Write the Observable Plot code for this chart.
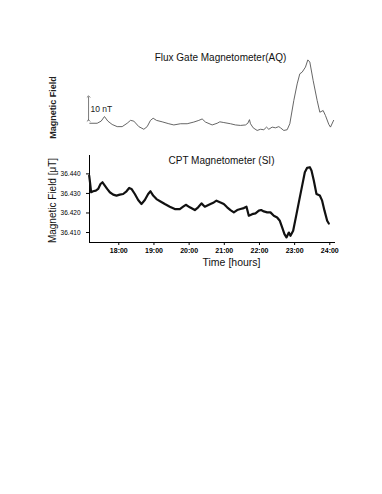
<!DOCTYPE html>
<html><head><meta charset="utf-8">
<script src="https://cdn.jsdelivr.net/npm/d3@7"></script>
<script src="https://cdn.jsdelivr.net/npm/@observablehq/plot@0.6"></script>
<style>
html,body{margin:0;padding:0;background:#fff;}
#chart{position:relative;width:382px;height:494px;font-family:"Liberation Sans",Arial,sans-serif;}
#chart svg{position:absolute;left:0;}
</style></head><body><div id="chart"></div>
<script>
// ---- data ----
const hourTicks = [18, 19, 20, 21, 22, 23, 24];
const fieldTicks = [36.41, 36.42, 36.43, 36.44];
const fluxTitle = "Flux Gate Magnetometer(AQ)";
const fluxYLabel = "Magnetic Field";
const cptTitle = "CPT Magnetometer (SI)";
const cptYLabel = "Magnetic Field [\u03BCT]";
const xLabel = "Time [hours]";
const scaleBarLabel = "10 nT";
const scaleBarTime = 17.14;
const scaleBarFrom = 1.25;
const scaleBarTo = 11.25;

// Flux gate (relative, nT)
const fluxTime = [17.176,17.385,17.499,17.593,17.688,17.811,17.954,18.096,18.238,18.333,18.427,18.570,18.712,18.807,18.901,18.977,19.072,19.233,19.423,19.565,19.754,19.944,20.133,20.276,20.370,20.465,20.655,20.797,20.873,20.986,21.176,21.318,21.460,21.602,21.669,21.716,21.745,21.821,21.934,22.029,22.124,22.200,22.266,22.361,22.455,22.550,22.598,22.692,22.787,22.863,22.977,23.072,23.147,23.214,23.308,23.375,23.432,23.527,23.640,23.716,23.811,23.877,23.972,24.019,24.108];
const fluxNT = [0.1,0.1,1.0,2.9,1.0,-0.4,-1.3,-1.3,0.1,1.3,1.0,-1.3,-2.4,-1.3,1.3,2.2,1.3,0.7,-0.1,-0.6,-0.1,-0.1,0.6,1.3,1.9,0.6,-0.6,0.1,0.7,0.4,-0.1,-0.6,-0.8,-0.6,0.1,1.6,-0.1,-1.8,-2.9,-2.4,-2.6,-1.5,-2.4,-1.5,-1.8,-1.3,-1.8,-2.9,-2.6,-0.1,9.6,16.5,20.7,21.4,23.5,26.5,25.6,17.9,9.6,4.7,5.4,3.3,-0.4,-1.5,1.3];

// CPT (µT)
const cptTime = [17.158,17.176,17.214,17.271,17.347,17.413,17.480,17.537,17.603,17.669,17.745,17.840,17.935,18.029,18.124,18.219,18.295,18.361,18.456,18.551,18.645,18.740,18.835,18.901,18.977,19.072,19.186,19.309,19.451,19.593,19.735,19.830,19.906,20.020,20.162,20.257,20.351,20.446,20.607,20.702,20.778,20.892,20.986,21.081,21.176,21.271,21.366,21.460,21.555,21.631,21.697,21.792,21.887,21.982,22.048,22.124,22.219,22.313,22.408,22.503,22.579,22.645,22.711,22.768,22.835,22.882,22.958,23.053,23.147,23.214,23.290,23.356,23.432,23.479,23.545,23.621,23.716,23.782,23.849,23.925,23.972];
const cptField = [36.4391,36.4366,36.4306,36.4311,36.4314,36.4323,36.4348,36.4357,36.4340,36.4323,36.4306,36.4294,36.4289,36.4294,36.4297,36.4311,36.4328,36.4323,36.4297,36.4266,36.4246,36.4266,36.4297,36.4311,36.4289,36.4271,36.4259,36.4246,36.4232,36.4220,36.4220,36.4232,36.4242,36.4229,36.4215,36.4229,36.4249,36.4232,36.4246,36.4254,36.4263,36.4254,36.4246,36.4229,36.4215,36.4203,36.4215,36.4220,36.4225,36.4232,36.4186,36.4194,36.4198,36.4212,36.4215,36.4208,36.4203,36.4203,36.4186,36.4177,36.4160,36.4126,36.4092,36.4075,36.4100,36.4083,36.4109,36.4194,36.4280,36.4340,36.4408,36.4431,36.4434,36.4417,36.4366,36.4297,36.4289,36.4263,36.4212,36.4160,36.4146];

// ---- build ----
const flux = fluxTime.map((t, i) => ({t, v: fluxNT[i]}));
const cpt = cptTime.map((t, i) => ({t, v: cptField[i]}));
const scaleBar = [{t: scaleBarTime, from: scaleBarFrom, to: scaleBarTo, label: scaleBarLabel}];

const font = '"Liberation Sans", Arial, sans-serif';
const xDomain = [17.167, 24.162];
const yDomainCpt = [36.4049, 36.4494];

const topPlot = Plot.plot({
  width: 382, height: 145,
  marginLeft: 89, marginRight: 47, marginTop: 40, marginBottom: 5,
  x: {domain: xDomain, axis: null},
  y: {domain: [-7.08, 34.58], axis: null},
  style: {fontFamily: font, background: "transparent", overflow: "visible", color: "#000"},
  marks: [
    Plot.line(flux, {x: "t", y: "v", stroke: "#555", strokeWidth: 0.9}),
    Plot.link(scaleBar, {x1: "t", x2: "t", y1: "from", y2: "to", stroke: "#444", strokeWidth: 0.7, markerStart: "arrow", markerEnd: "arrow"}),
    Plot.text(scaleBar, {x: "t", y: d => (d.from + d.to) / 2, text: "label", textAnchor: "start", dx: 2, dy: 1, fontSize: 8.5, fill: "#222"}),
    Plot.text([fluxTitle], {text: d => d, frameAnchor: "top", textAnchor: "middle", dx: 8, dy: 13, fontSize: 10, fill: "#111"}),
    Plot.text([fluxYLabel], {text: d => d, frameAnchor: "left", textAnchor: "middle", rotate: -90, dx: -36, dy: 17, fontSize: 9, fontWeight: "bold", fill: "#222"})
  ]
});
topPlot.style.top = "0px";

const botPlot = Plot.plot({
  width: 382, height: 127,
  marginLeft: 89, marginRight: 47, marginTop: 10, marginBottom: 30,
  x: {domain: xDomain},
  y: {domain: yDomainCpt},
  style: {fontFamily: font, background: "transparent", overflow: "visible", color: "#000"},
  marks: [
    Plot.ruleX([xDomain[0]], {stroke: "#000", strokeWidth: 1}),
    Plot.ruleY([yDomainCpt[0]], {stroke: "#000", strokeWidth: 1}),
    Plot.axisY({ticks: fieldTicks, tickFormat: ".3f", tickSize: 3, tickPadding: 6, fontSize: 6.5, label: null}),
    Plot.axisX({ticks: hourTicks, tickFormat: d => `${d}:00`, tickSize: 3, tickPadding: 3, fontSize: 7, fontWeight: "bold", label: null}),
    Plot.line(cpt, {x: "t", y: "v", stroke: "#111", strokeWidth: 2.2}),
    Plot.text([cptTitle], {text: d => d, frameAnchor: "top", textAnchor: "middle", dx: 9, dy: 1, fontSize: 10, fill: "#111"}),
    Plot.text([cptYLabel], {text: d => d, frameAnchor: "left", textAnchor: "middle", rotate: -90, dx: -37, dy: 1.5, fontSize: 10, fill: "#111"}),
    Plot.text([xLabel], {text: d => d, frameAnchor: "bottom", textAnchor: "middle", dx: 19, dy: 23, fontSize: 10.5, fill: "#111"})
  ]
});
botPlot.style.top = "145px";

const root = document.getElementById("chart");
root.appendChild(topPlot);
root.appendChild(botPlot);
</script></body></html>
